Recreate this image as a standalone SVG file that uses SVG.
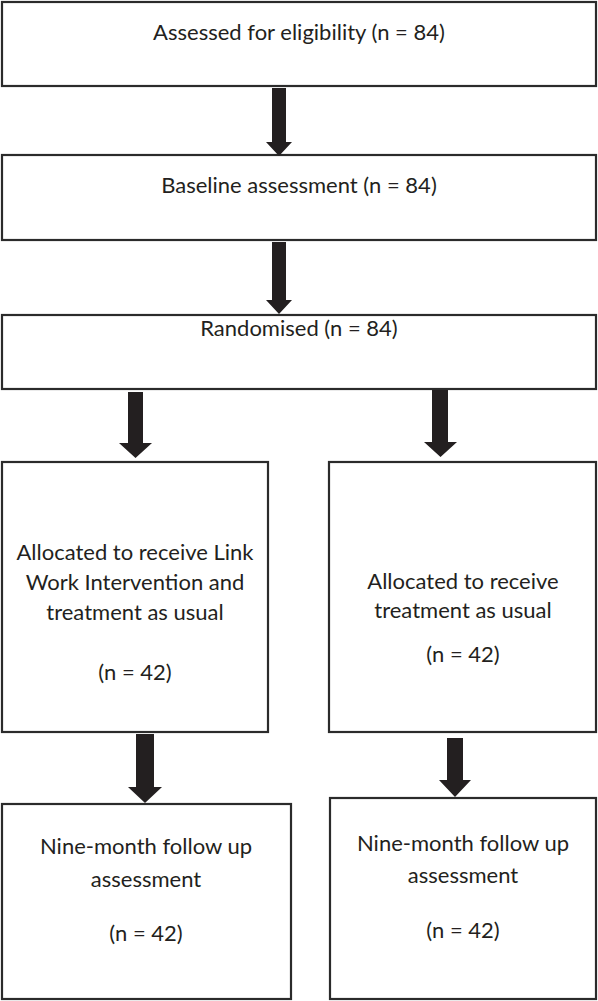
<svg xmlns="http://www.w3.org/2000/svg" width="598" height="1001" viewBox="0 0 598 1001">
<style>
.box{fill:#fff;stroke:#2b2b2b;stroke-width:2.2}
.t{font-family:Lato,"Open Sans","Liberation Sans",sans-serif;font-size:22px;fill:#231f20;text-anchor:middle}
.arr{fill:#231f20}
</style>
<rect width="598" height="1001" fill="#fff"/>
<g id="n1"><rect class="box" x="2" y="2" width="594" height="84"/><text class="t" x="299" y="40">Assessed for eligibility (n = 84)</text></g>
<g id="n2"><rect class="box" x="2" y="155" width="594" height="85"/><text class="t" x="299" y="193">Baseline assessment (n = 84)</text></g>
<g id="n3"><rect class="box" x="2" y="315" width="594" height="74"/><text class="t" x="299" y="336">Randomised (n = 84)</text></g>
<g id="n4"><rect class="box" x="2" y="462" width="266" height="270"/>
<text class="t" x="135" y="560">Allocated to receive Link</text>
<text class="t" x="135" y="590">Work Intervention and</text>
<text class="t" x="135" y="620">treatment as usual</text>
<text class="t" x="135" y="680">(n = 42)</text></g>
<g id="n5"><rect class="box" x="329" y="462" width="267" height="270"/>
<text class="t" x="463" y="589">Allocated to receive</text>
<text class="t" x="463" y="618">treatment as usual</text>
<text class="t" x="463" y="662">(n = 42)</text></g>
<g id="n6"><rect class="box" x="2" y="804" width="289" height="195"/>
<text class="t" x="146" y="854">Nine-month follow up</text>
<text class="t" x="146" y="887">assessment</text>
<text class="t" x="146" y="941">(n = 42)</text></g>
<g id="n7"><rect class="box" x="330" y="798" width="266" height="201"/>
<text class="t" x="463" y="851">Nine-month follow up</text>
<text class="t" x="463" y="883">assessment</text>
<text class="t" x="463" y="938">(n = 42)</text></g>
<g id="connectors">
<polygon class="arr" points="272,88 286,88 286,142 292,142 279,156 266,142 272,142"/>
<polygon class="arr" points="272,242 286,242 286,300 292,300 279,314 266,300 272,300"/>
<polygon class="arr" points="128,392 143,392 143,443 152,443 135.5,458 119,443 128,443"/>
<polygon class="arr" points="432,390 448,390 448,442 457,442 440.5,457 424,442 432,442"/>
<polygon class="arr" points="136,734 154,734 154,787 162,787 145,803 128,787 136,787"/>
<polygon class="arr" points="447,738 463,738 463,780 471,780 455,797 439,780 447,780"/>
</g>
</svg>
